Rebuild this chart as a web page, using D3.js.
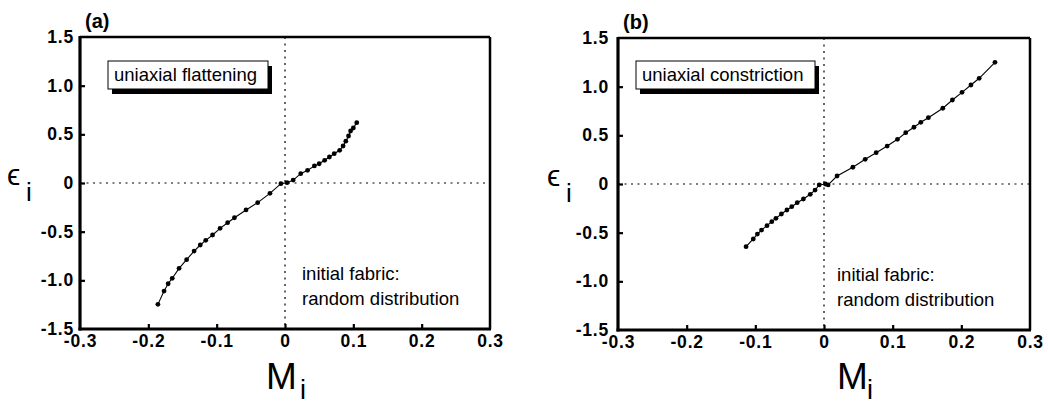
<!DOCTYPE html>
<html><head><meta charset="utf-8">
<script src="https://cdn.jsdelivr.net/npm/d3@7"></script>
<style>body{margin:0;background:#fff}svg{display:block}</style>
</head><body>
<svg id="c" width="1048" height="404"></svg>
<script>
const xTickLabels = ["-0.3","-0.2","-0.1","0","0.1","0.2","0.3"];
const yTickLabels = ["1.5","1.0","0.5","0","-0.5","-1.0","-1.5"];
const xTickValues = [-0.3,-0.2,-0.1,0,0.1,0.2,0.3];
const yTickValues = [1.5,1.0,0.5,0,-0.5,-1.0,-1.5];

const flatM = [-0.186,-0.177,-0.171,-0.165,-0.155,-0.144,-0.133,-0.124,-0.116,-0.106,-0.095,-0.084,-0.074,-0.057,-0.040,-0.022,-0.006,0.003,0.012,0.023,0.033,0.043,0.050,0.058,0.065,0.072,0.080,0.085,0.089,0.093,0.096,0.100,0.105];
const flatE = [-1.247,-1.110,-1.035,-0.979,-0.877,-0.788,-0.699,-0.637,-0.589,-0.534,-0.466,-0.408,-0.357,-0.277,-0.202,-0.106,-0.007,0.003,0.030,0.096,0.130,0.175,0.198,0.233,0.267,0.301,0.336,0.380,0.430,0.483,0.534,0.565,0.620];

const consM = [-0.1135,-0.103,-0.097,-0.091,-0.083,-0.076,-0.070,-0.062,-0.054,-0.047,-0.039,-0.030,-0.020,-0.013,-0.007,0.002,0.006,0.019,0.042,0.060,0.076,0.092,0.107,0.119,0.131,0.141,0.152,0.173,0.187,0.201,0.214,0.226,0.249];
const consE = [-0.644,-0.565,-0.514,-0.473,-0.428,-0.387,-0.353,-0.308,-0.267,-0.233,-0.192,-0.154,-0.106,-0.062,-0.010,0.000,-0.010,0.082,0.172,0.254,0.322,0.390,0.459,0.527,0.583,0.634,0.681,0.778,0.863,0.942,1.017,1.086,1.250];

const panelLetters = ["(a)","(b)"];
const boxTexts = ["uniaxial flattening","uniaxial constriction"];
const noteLines = ["initial fabric:","random distribution"];

const svg = d3.select("#c");
const font = "Liberation Sans, Arial, Helvetica, sans-serif";

function panel(cfg){
  const {L,R,T,B,xs,ys,letter,box,boxX,boxW,noteX,epsX,mX,iGap,yLabOff} = cfg;
  const x = d3.scaleLinear().domain([-0.3,0.3]).range([L,R]);
  const y = d3.scaleLinear().domain([-1.5,1.5]).range([B,T]);
  const g = svg.append("g");

  // dotted zero lines
  g.append("line").attr("x1",L).attr("x2",R).attr("y1",y(0)).attr("y2",y(0))
    .attr("stroke","#000").attr("stroke-width",1.2).attr("stroke-dasharray","2,4.5");
  g.append("line").attr("x1",x(0)).attr("x2",x(0)).attr("y1",T).attr("y2",B)
    .attr("stroke","#000").attr("stroke-width",1.2).attr("stroke-dasharray","2,4.5");

  // axes
  const xa = g.append("g").attr("transform",`translate(0,${B})`)
    .call(d3.axisBottom(x).tickValues(xTickValues).tickFormat((d,i)=>xTickLabels[i]).tickSize(-5).tickPadding(8));
  const ya = g.append("g").attr("transform",`translate(${L},0)`)
    .call(d3.axisLeft(y).tickValues(yTickValues).tickFormat((d,i)=>yTickLabels[i]).tickSize(-5).tickPadding(yLabOff));
  [xa,ya].forEach(a=>{
    a.select(".domain").remove();
    a.selectAll(".tick line").attr("stroke","#000").attr("stroke-width",2.2);
    a.selectAll(".tick text").attr("fill","#000").style("font-family",font)
      .style("font-size","17.5px").style("font-weight","bold").style("letter-spacing","0.8px");
  });
  xa.selectAll(".tick").filter(d=>Math.abs(d)>0.29).select("line").remove();
  ya.selectAll(".tick").filter(d=>Math.abs(d)>1.49).select("line").remove();
  xa.selectAll(".tick text").attr("dy","0.55em");

  // frame
  g.append("line").attr("x1",L).attr("x2",R).attr("y1",T).attr("y2",T).attr("stroke","#000").attr("stroke-width",2.5);
  g.append("line").attr("x1",R).attr("x2",R).attr("y1",T).attr("y2",B).attr("stroke","#000").attr("stroke-width",2.5);
  g.append("line").attr("x1",L).attr("x2",L).attr("y1",T-1).attr("y2",B+1.5).attr("stroke","#000").attr("stroke-width",3.2);
  g.append("line").attr("x1",L-1.5).attr("x2",R+1).attr("y1",B).attr("y2",B).attr("stroke","#000").attr("stroke-width",3.2);

  // data
  const pts = xs.map((v,i)=>[v,ys[i]]);
  g.append("path").datum(pts).attr("fill","none").attr("stroke","#000").attr("stroke-width",1.1)
    .attr("d",d3.line().x(d=>x(d[0])).y(d=>y(d[1])));
  g.selectAll("circle.pt").data(pts).enter().append("circle").attr("class","pt")
    .attr("cx",d=>x(d[0])).attr("cy",d=>y(d[1])).attr("r",2.4).attr("fill","#000");

  // panel letter
  g.append("text").attr("x",L+5).attr("y",T-9).text(letter)
    .style("font-family",font).style("font-size","20px").style("font-weight","bold");

  // box with shadow
  const bY = 61, bH = 28;
  g.append("rect").attr("x",boxX+4).attr("y",bY+5).attr("width",boxW).attr("height",bH).attr("fill","#000");
  g.append("rect").attr("x",boxX).attr("y",bY).attr("width",boxW).attr("height",bH)
    .attr("fill","#fff").attr("stroke","#000").attr("stroke-width",1);
  g.append("text").attr("x",boxX+6).attr("y",bY+20).text(box)
    .style("font-family",font).style("font-size","18.5px");

  // note
  noteLines.forEach((t,i)=>{
    g.append("text").attr("x",noteX).attr("y",T+243+i*25).text(t)
      .style("font-family",font).style("font-size","18.5px");
  });

  // y label
  g.append("text").attr("x",epsX).attr("y",y(0)+2).text("\u03F5")
    .style("font-family",font).style("font-size","30px");
  g.append("text").attr("x",epsX+19).attr("y",y(0)+18).text("i")
    .style("font-family",font).style("font-size","26px");
  // x label
  g.append("text").attr("x",mX).attr("y",389).text("M")
    .style("font-family",font).style("font-size","37px");
  g.append("text").attr("x",mX+29+iGap).attr("y",399).text("i")
    .style("font-family",font).style("font-size","27px");
}

panel({L:80,R:490,T:37,B:329,xs:flatM,ys:flatE,letter:panelLetters[0],box:boxTexts[0],
  boxX:108,boxW:160,noteX:302,epsX:7,mX:266,iGap:5,yLabOff:6});
panel({L:618,R:1030,T:38,B:330,xs:consM,ys:consE,letter:panelLetters[1],box:boxTexts[1],
  boxX:636,boxW:179,noteX:837,epsX:547,mX:837,iGap:1,yLabOff:9});
</script>
</body></html>
